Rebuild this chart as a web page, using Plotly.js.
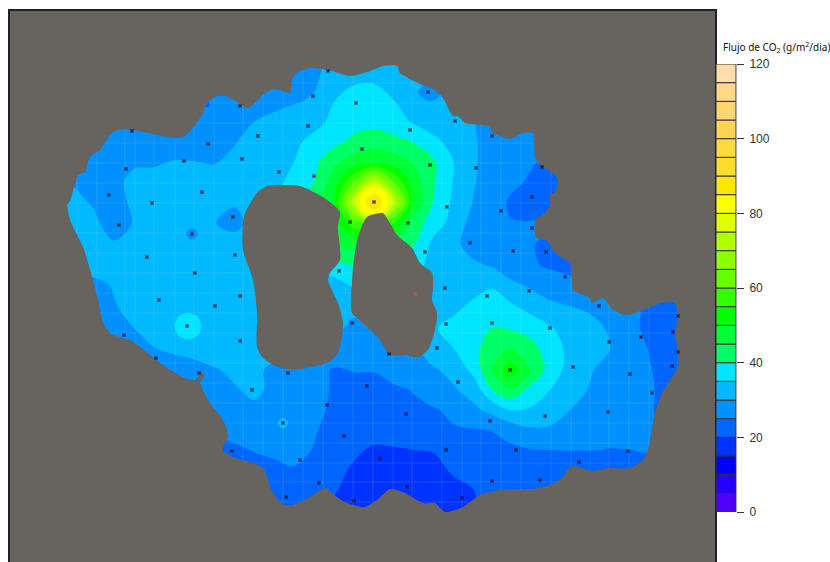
<!DOCTYPE html>
<html><head><meta charset="utf-8">
<script src="https://cdn.plot.ly/plotly-3.0.1.min.js"></script>
<style>html,body{margin:0;padding:0;background:#fff;overflow:hidden}</style>
</head><body><div id="chart" style="width:830px;height:562px"></div>
<script>
const gridX=[54,74,94,114,134,154,174,194,214,234,254,274,294,314,334,354,374,394,414,434,454,474,492,510,530,550,570,590,610,630,650,670,690];
const gridY=[62,82,102,122,142,162,182,202,223,244,265,286,307,328,349,370,390,410,430,450,470,490,510,530];
const r062=[27,27,27,27,27,27,27,27,27,27,27,27,27,29,31,33,33,31,30.5,31,30,29,28,28,28,28,28,28,28,28,28,28,28];
const r082=[27,27,27,26,26,26,26,26,26,26,27,27,28,29.5,32,34.7,34.8,32.5,31,31,31,30.5,28,28,28,28,28,28,28,28,28,28,28];
const r102=[26,26,26,26,26,26,26,26,26,27,27.5,29,29.7,30.5,35,36.5,37,35.2,32.5,31,31.5,30.5,29,28,28,28,28,28,28,28,28,28,28];
const r122=[26,26,26,26,26,26,26,26,26.5,28,30,31,32.5,34,35.8,38,38.5,37,34.5,33,32,30.2,28,27,27,27,27,27,27,27,27,27,27];
const r142=[26,26,26,26,26,26.5,27,27,27,29.7,31.5,33,34.3,36,38.5,41.3,43,41.5,39.8,36,33.5,30.5,28,27,27,27,27,27,27,27,27,27,27];
const r162=[26,26,26,27.5,29.5,29.3,30.3,30.1,29.7,31,32,34,35,38.5,44,47.5,49.5,47.5,44.5,40.5,34.9,30.5,28,27,25.5,24,25,25,25,25,25,25,25];
const r182=[31,29.7,27,29,31,32,32,32,32,32,32.5,34,36,40,47.5,60,74,60,47.5,40.5,34.6,30.3,28,26,24.5,24,24,25,25,25,25,25,25];
const r202=[32,31,29.5,28,31,33,33,33,31.5,30.5,32,34,38,43,49.5,74,90,74,49.5,39.5,34,29.7,27,24.5,23,23.5,24,25,25,25,25,25,25];
const r223=[32,33,31,27.5,30.3,33,33,31,30.2,28.5,31.5,33,37,42,48,58,62,55,42.5,37.5,33,28,26.5,25.2,25.2,26,26,25,25,25,25,25,25];
const r244=[32,33,33,30.5,31.5,33,33,31,31.5,32,32.5,33,36,40,45,47,47,45,40.5,33.5,31,28,27,26,25.3,24.2,24,24,24,24,24,24,24];
const r265=[31,32,33,33,33,33,33,33,33,33,33,33,33,36,38.5,40.5,42,40,37,33,31.5,30.7,29.5,27,25.5,24.5,24,24,24,24,24,24,24];
const r286=[27,27,28,30.5,33,33,33,33,33,33,33,33,33,33,32.5,35.5,37,36,34,32.5,32,33.5,34.5,31.5,29.5,27,26,25,24,24,24,24,24];
const r307=[27,27,27,29.5,32,33,33,33,33,33,33,33,33,33,32,31,31,32,33,34,34,36,38,36,33.5,31.5,30.2,29,27.5,26,24,23,23];
const r328=[27,27,27,27,30,32,33.5,34,33,33,33,33,33,33,31,29,30.5,32,33.5,34.6,36.5,38.5,40,39.5,38,35.5,33,32,29.2,26,24,23,23];
const r349=[27,27,27,27,27,29.8,31,32,33,33,33,33,32,31,29,27,28,30,30,33,35,38.5,43,45.3,42,37.5,33.8,31,30,27.5,24.7,23,23];
const r370=[27,27,27,27,27,27,27,28,29.5,31,31.5,28.5,28,27,24.5,25.2,25.3,27.5,28.5,29.5,31.5,36.5,45.3,53,45.3,38,33,30.5,28,26.5,25.2,23.5,23];
const r390=[27,27,27,27,27,27,27,27,28,29.5,31,29,28,26,24.7,23.5,23,24,25.3,27.5,29.5,32,39.8,44.3,38.5,35,32,29.7,27.5,26,25.6,23,23];
const r410=[27,27,27,27,27,27,27,27,27,28,29,28,27.5,26,24.3,23,22.5,23,24,24.7,25.8,29,31.5,35,34.5,33,30,28.5,27,26,25.5,23,23];
const r430=[26,26,26,26,26,26,26,26,26,27,27,27.5,27,25.4,23.5,22,21.5,22,23,24,24.7,24.7,25.2,27,29.3,29.2,28,27,26,26,25.5,24,24];
const r450=[24,24,24,24,24,24,24,24,23,24,25.3,25.8,26.3,24.8,22,20.6,19.5,19.6,20,20.2,21,22,23,24,24.7,25,25.1,25.1,24.9,25,25.6,24,24];
const r470=[22,22,22,22,22,22,22,22,22,22,23,24,24.7,23.5,21,19.5,18,17.5,18,19,20.5,21,22,22,22,22,22,22,22,22,22,22,22];
const r490=[21,21,21,21,21,21,21,21,21,21,22,22,22.5,21.7,20.4,18.5,17,16.5,17,18,19,20,21,21,21,21,21,21,21,21,21,21,21];
const r510=[20,20,20,20,20,20,20,20,20,20,20,20,21,21,19,18,17,16,16.5,17,18,19.8,21,21,21,21,21,21,21,21,21,21,21];
const r530=[20,20,20,20,20,20,20,20,20,20,20,20,20,20,19,18,17,16,16,17,18,19,20,20,20,20,20,20,20,20,20,20,20];
const gridZ=[r062,r082,r102,r122,r142,r162,r182,r202,r223,r244,r265,r286,r307,r328,r349,r370,r390,r410,r430,r450,r470,r490,r510,r530];

const peakX=[354,364,374,384,394], peakY=[182,192,202,212,223];
const peakZ=[[60,66.5,74,66.5,60],[66.5,81.5,84,81.5,66.5],[74,84,90,84,74],[65.5,81.5,84,81.5,64],[58,60,62,58.5,55]];
const dipX=[184,192,200], dipY=[226,234,242], dipZ=[[31,31,31],[31,27,31],[31,31,31]];
const bumpX=[172,180,188,196,204], bumpY=[310,318,326,334,342];
const bumpZ=[[34,34,34,34,34],[34,35.5,37,35.5,34],[34,37,38,37,34],[34,35.5,37,35.5,34],[34,34,34,34,34]];
const spotX=[275,283,291], spotY=[415,423,431], spotZ=[[29.5,29.5,29.5],[29.5,31,29.5],[29.5,29.5,29.5]];
const blobX=[412,430,448], blobY=[78,92,106], blobZ=[[30.5,30.5,30.5],[30.5,29,30.5],[30.5,30.5,30.5]];
const nickX=[200,207,214], nickY=[96,104,112], nickZ=[[25.5,25.5,25.5],[25.5,24.6,25.5],[25.5,25.5,25.5]];

const islandX=[67,75,78,85,90,100,110,118,132,153,173,183,193,202,208,218,228,237,247,253,263,273,280,290,292,298,310,328,350,367,380,383,397,400,418,433,443,453,458,465,488,493,510,523,533,535,540,555,558,555,550,550,543,536,536,547,555,570,572,573,590,592,603,613,627,643,662,675,678,675,678,678,662,655,648,643,630,610,592,572,560,540,500,480,463,445,435,423,403,390,377,365,347,337,325,310,293,283,273,263,250,233,223,228,223,210,202,200,204,202,198,195,183,163,140,132,110,103,98,93,83,70];
const islandY=[205,185,175,172,157,150,135,130,130,134,138,137,128,115,102,96,97,102,108,105,95,89,90,93,80,72,68,70,76,72,67,66,66,73,83,89,98,116,116,123,126,133,139,133,133,157,165,175,180,192,195,205,215,219,237,241,253,263,280,290,298,303,298,310,315,310,303,303,317,332,352,367,393,413,450,460,468,468,471,466,480,488,490,495,507,512,503,503,492,489,500,507,503,497,488,497,505,504,493,468,462,457,450,435,420,403,388,382,377,372,377,380,377,365,347,341,333,322,300,280,247,220];
const hole1X=[243,245,257,267,280,300,323,337,340,338,340,330,328,338,343,338,327,300,280,263,257,257,253,243];
const hole1Y=[223,213,193,186,185,186,197,208,213,227,260,273,280,303,323,353,363,369,368,358,347,313,280,250];
const hole2X=[352,353,358,367,380,383,390,397,412,420,432,433,432,437,435,429,420,413,408,390,380,370,357,352,351];
const hole2Y=[283,267,237,217,213,213,223,235,248,263,273,288,300,313,330,348,357,357,355,355,340,330,318,313,297];
const outerX=[0,0,0,0,760,760,760,760,0,0,0], outerY=[-20,-20,600,600,600,600,-20,-20,-20,-20,-20];

const meshX=[77,97,125,135,154,175,194,214,243,263,283,303,323,353,373,393,412,442,462,481,501,521,551,571,590,609,629,649,678];
const meshY=[83,103,123,143,163,183,203,233,253,273,293,313,333,363,383,403,423,443,463,482,502];

const siteX=[328,313,356,240,132,308,258,208,362,242,184,126,279,314,202,109,152,374,233,119,350,192,235,147,195,339,428,455,410,492,430,476,542,532,447,501,408,532,470,425,513,546,565,445,529,159,240,215,187,352,124,240,156,288,199,367,252,327,283,344,232,300,380,319,286,354,487,599,678,446,492,550,673,641,609,437,389,678,510,573,630,672,458,652,406,608,545,490,516,446,628,579,492,540,407,462];
const siteY=[71,96,103,106,131,126,136,144,149,159,161,169,172,176,192,195,203,202,217,225,222,234,255,257,273,271,92,121,130,136,165,168,167,197,207,211,223,228,243,252,251,252,277,288,291,300,296,306,326,323,335,341,358,373,373,386,390,405,423,436,451,460,459,483,497,501,296,306,316,324,323,328,332,337,342,348,354,352,370,367,374,366,382,393,414,412,416,421,450,450,451,462,481,480,487,498];
const flaggedX=[415], flaggedY=[294];

const levels=[0,5,10,15,20,25,30,35,40,45,50,55,60,65,70,75,80,85,90,95,100,105,110,115];
const bandColors=['#4F00FF','#2600FF','#0000FF','#0033FF','#0066FF','#0090FF','#00B9FF','#00E5FF','#00FF66','#00FF33','#00FF00','#33FF00','#66FF00','#8CFF00','#B2FF00','#E0FF00','#FFFF00','#FFE600','#FFDD2A','#FFD940','#FFD455','#FFD570','#FFD888','#FFDDAA'];
const colorTicks=[0,20,40,60,80,100,120];
const legendTitle='Flujo de CO<sub>2</sub> (g/m<sup>2</sup>/dia)';
const GRAY='#67645F';

const scale=[];
bandColors.forEach((c,i)=>{scale.push([i/24,c]);scale.push([(i+1)/24,c]);});
function field(x,y,z){return {type:'contour',x:x,y:y,z:z,zmin:0,zmax:120,zauto:false,autocontour:false,
  contours:{coloring:'fill',start:0,end:120,size:5,showlines:false},line:{width:0},colorscale:scale,showscale:false,hoverinfo:'skip'};}
function shape(x,y){return {type:'scatter',mode:'lines',x:x,y:y,fill:'toself',fillcolor:GRAY,line:{width:0,color:GRAY,shape:'spline',smoothing:0.7,simplify:false},hoverinfo:'skip',showlegend:false};}
const mx=[],my=[];
meshX.forEach(v=>{mx.push(v,v,null);my.push(60,520,null);});
meshY.forEach(v=>{mx.push(60,690,null);my.push(v,v,null);});

const traces=[
 field(gridX,gridY,gridZ),field(peakX,peakY,peakZ),field(dipX,dipY,dipZ),field(bumpX,bumpY,bumpZ),field(spotX,spotY,spotZ),field(blobX,blobY,blobZ),field(nickX,nickY,nickZ),
 {type:'scatter',mode:'lines',x:mx,y:my,line:{color:'rgba(255,255,255,0.11)',width:1},hoverinfo:'skip'},
 shape(outerX.concat(islandX,[islandX[0],islandX[0]],[0,0]),outerY.concat(islandY,[islandY[0],islandY[0]],[-20,-20])),
 shape(hole1X.concat(hole1X[0]),hole1Y.concat(hole1Y[0])),shape(hole2X.concat(hole2X[0]),hole2Y.concat(hole2Y[0])),
 {type:'scatter',mode:'markers',x:siteX,y:siteY,marker:{symbol:'x',size:3.6,color:'rgba(10,20,50,0.85)'},hoverinfo:'skip'},
 {type:'scatter',mode:'markers',x:flaggedX,y:flaggedY,marker:{symbol:'x',size:3.6,color:'#E0404A'},hoverinfo:'skip'},
 {type:'bar',xaxis:'x2',yaxis:'y2',x:levels.map(()=>1),y:levels.map(()=>5),base:levels,width:1,marker:{color:bandColors,line:{color:'#333',width:1}},hoverinfo:'skip'}
];
const W=830,H=562;
const layout={width:W,height:H,margin:{l:0,r:0,t:0,b:0},paper_bgcolor:'#fff',plot_bgcolor:GRAY,showlegend:false,barmode:'overlay',
 xaxis:{domain:[10/W,715/W],range:[10,715],side:'top',showline:true,linecolor:'#222',linewidth:2,showgrid:false,zeroline:false,showticklabels:false,ticks:''},
 yaxis:{domain:[0,1-11/H],range:[562,11],showline:true,mirror:true,linecolor:'#222',linewidth:2,showgrid:false,zeroline:false,showticklabels:false,ticks:''},
 xaxis2:{domain:[716/W,736/W],range:[0.5,1.5],anchor:'y2',visible:false},
 yaxis2:{domain:[(H-512)/H,(H-64)/H],range:[0,120],anchor:'x2',side:'right',tickmode:'array',tickvals:colorTicks,ticktext:colorTicks.map(String),ticks:'outside',ticklen:7,tickcolor:'#333',tickwidth:1,showline:true,linecolor:'#aaa',linewidth:1,showgrid:false,zeroline:false,tickfont:{family:'Liberation Sans',size:12,color:'#333'},ticklabelstandoff:3},
 annotations:[{xref:'paper',yref:'paper',x:721/W,y:1-47/H,xanchor:'left',yanchor:'middle',showarrow:false,text:legendTitle,font:{family:'Noto Sans',size:10,color:'#111'}}]
};
Plotly.newPlot('chart',traces,layout,{displayModeBar:false,staticPlot:true});
</script></body></html>
